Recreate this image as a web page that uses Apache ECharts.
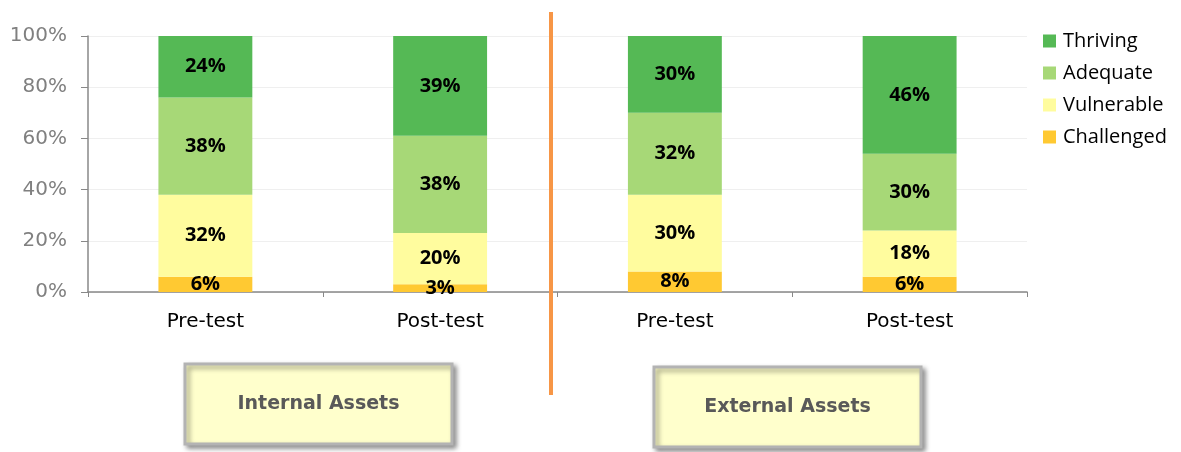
<!DOCTYPE html>
<html>
<head>
<meta charset="utf-8">
<script src="https://cdn.jsdelivr.net/npm/echarts@6/dist/echarts.min.js"></script>
<style>
  html, body { margin: 0; padding: 0; background: #fff; }
  #chart { width: 1181px; height: 452px; }
</style>
</head>
<body>
<div id="chart"></div>
<script>
    // data
    var categories = ['Pre-test', 'Post-test', 'Pre-test', 'Post-test'];
    var challenged = [6, 3, 8, 6];
    var vulnerable = [32, 20, 30, 18];
    var adequate = [38, 38, 32, 30];
    var thriving = [24, 39, 30, 46];
    var yTicks = [0, 20, 40, 60, 80, 100];
    var groupNames = ['Internal Assets', 'External Assets'];

    var colors = {
        Thriving: '#55b955',
        Adequate: '#a7d877',
        Vulnerable: '#fffc9e',
        Challenged: '#ffc932'
    };

    var myChart = echarts.init(document.getElementById('chart'));

    function barSeries(name, values) {
        return {
            name: name,
            type: 'bar',
            stack: 'total',
            barWidth: '40%',
            data: values,
            itemStyle: { color: colors[name] },
            label: {
                show: true,
                position: 'inside',
                formatter: '{c}%',
                color: '#000',
                fontFamily: 'Open Sans',
                fontWeight: 'bold',
                fontSize: 20
            }
        };
    }

    function assetBox(x, y, w, h, text) {
        return {
            type: 'group',
            children: [
                {
                    type: 'rect',
                    shape: { x: x, y: y, width: w, height: h },
                    style: {
                        fill: '#ffffcc',
                        stroke: '#b3b3b3',
                        lineWidth: 3,
                        shadowBlur: 5,
                        shadowOffsetX: 3,
                        shadowOffsetY: 3,
                        shadowColor: 'rgba(0,0,0,0.4)'
                    }
                },
                {
                    type: 'text',
                    x: x + w / 2,
                    y: y + h / 2,
                    style: {
                        text: text,
                        align: 'center',
                        verticalAlign: 'middle',
                        fill: '#595959',
                        fontFamily: 'DejaVu Sans',
                        fontWeight: 'bold',
                        fontSize: 19
                    }
                }
            ]
        };
    }

    myChart.setOption({
        backgroundColor: '#FFFFFF',
        animation: false,
        grid: { left: 88, right: 154, top: 36, bottom: 160 },
        legend: {
            orient: 'vertical',
            left: 1043,
            top: 29,
            padding: 0,
            itemWidth: 13,
            itemHeight: 13,
            itemGap: 8,
            icon: 'rect',
            data: ['Thriving', 'Adequate', 'Vulnerable', 'Challenged'],
            textStyle: { fontFamily: 'Open Sans', fontSize: 20, color: '#000', lineHeight: 24, padding: [0, 0, 0, 2] }
        },
        xAxis: {
            type: 'category',
            data: categories,
            axisLine: { lineStyle: { color: '#888', width: 1.5 } },
            axisTick: { show: true, length: 5, lineStyle: { color: '#888' } },
            axisLabel: { color: '#000', fontFamily: 'DejaVu Sans', fontSize: 20, margin: 20 }
        },
        yAxis: {
            type: 'value',
            min: yTicks[0],
            max: yTicks[yTicks.length - 1],
            interval: yTicks[1] - yTicks[0],
            axisLine: { show: true, lineStyle: { color: '#888', width: 1.5 } },
            axisTick: { show: true, length: 7, lineStyle: { color: '#888' } },
            axisLabel: { formatter: '{value}%', color: '#808080', fontFamily: 'DejaVu Sans', fontSize: 20, margin: 21 },
            splitLine: { lineStyle: { color: '#efefef' } }
        },
        series: [
            barSeries('Challenged', challenged),
            barSeries('Vulnerable', vulnerable),
            barSeries('Adequate', adequate),
            barSeries('Thriving', thriving)
        ],
        graphic: [
            {
                type: 'line',
                shape: { x1: 551, y1: 12, x2: 551, y2: 395 },
                style: { stroke: '#f79646', lineWidth: 4 },
                z: 10
            },
            assetBox(185, 364, 267, 80, groupNames[0]),
            assetBox(654, 367, 267, 80, groupNames[1])
        ]
    });
</script>
</body>
</html>
